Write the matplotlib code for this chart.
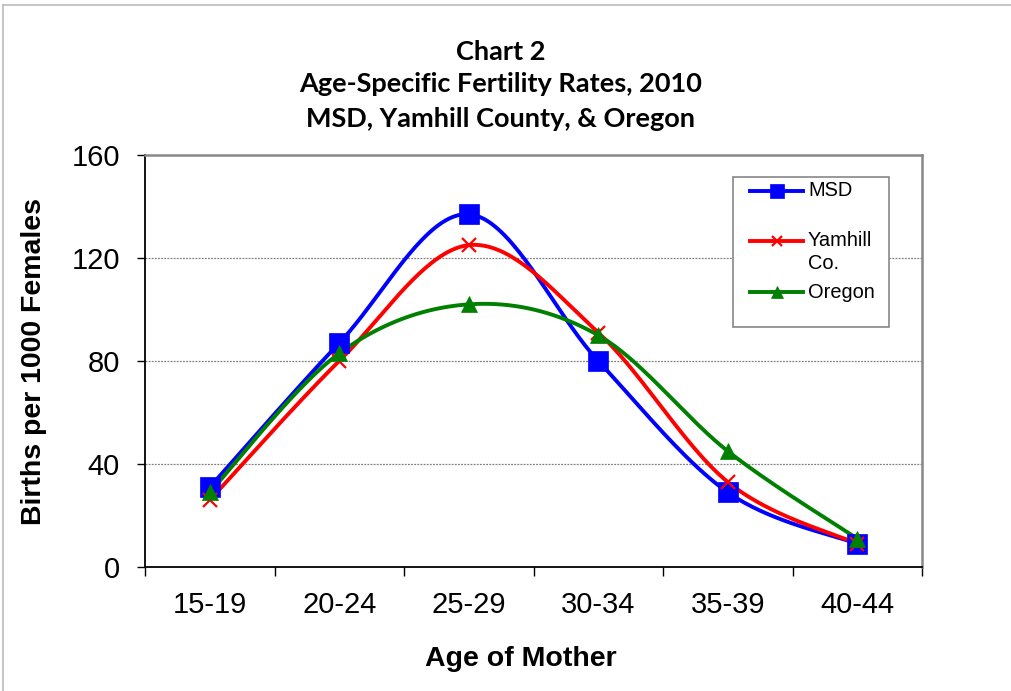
import numpy as np
import matplotlib
matplotlib.use("Agg")
import matplotlib.pyplot as plt
from matplotlib.lines import Line2D
from matplotlib.patches import Rectangle

categories = ["15-19", "20-24", "25-29", "30-34", "35-39", "40-44"]
msd = [31, 87, 137, 80, 29, 9]
yamhill = [26, 80, 125, 91, 33, 9]
oregon = [29, 83, 102, 90, 45, 11]
yticks = [0, 40, 80, 120, 160]

W, H = 1011, 691
fig = plt.figure(figsize=(W / 100, H / 100), dpi=100)

def fx(px):
    return px / W

def fy(py):
    return 1 - py / H

ax = fig.add_axes([fx(145), fy(567), fx(922) - fx(145), fy(155) - fy(567)])

def catmull(xs, ys, n=40):
    xs = np.asarray(xs, float)
    ys = np.asarray(ys, float)
    px = np.concatenate([[xs[0]], xs, [xs[-1]]])
    py = np.concatenate([[ys[0]], ys, [ys[-1]]])
    outx, outy = [], []
    t = np.linspace(0, 1, n)
    for i in range(1, len(px) - 2):
        p0x, p1x, p2x, p3x = px[i - 1:i + 3]
        p0y, p1y, p2y, p3y = py[i - 1:i + 3]
        c1x = p1x + (p2x - p0x) / 6
        c1y = p1y + (p2y - p0y) / 6
        c2x = p2x - (p3x - p1x) / 6
        c2y = p2y - (p3y - p1y) / 6
        bx = (1 - t) ** 3 * p1x + 3 * (1 - t) ** 2 * t * c1x + 3 * (1 - t) * t ** 2 * c2x + t ** 3 * p2x
        by = (1 - t) ** 3 * p1y + 3 * (1 - t) ** 2 * t * c1y + 3 * (1 - t) * t ** 2 * c2y + t ** 3 * p2y
        outx.append(bx)
        outy.append(by)
    return np.concatenate(outx), np.concatenate(outy)

x = np.arange(len(categories))
# (values, colour, marker, plot marker size, legend marker size, label)
series = [
    (msd, "#0000FF", "s", 14.5, 9.5, "MSD"),
    (yamhill, "#FF0000", "x", 9.5, 7, "Yamhill\nCo."),
    (oregon, "#008000", "^", 11, 8.5, "Oregon"),
]
for vals, col, mk, ms, lms, lab in series:
    sx, sy = catmull(x, vals)
    ax.plot(sx, sy, color=col, lw=2.8, zorder=3, solid_capstyle="round")
for vals, col, mk, ms, lms, lab in series:
    ax.plot(x, vals, linestyle="none", marker=mk, color=col, markersize=ms,
            markeredgewidth=1.6 if mk == "x" else 0.5, zorder=4)

TF = "Liberation Sans"
ax.set_xlim(-0.5, len(categories) - 0.5)
ax.set_ylim(0, 160)
ax.set_yticks(yticks)
ax.set_yticklabels([str(v) for v in yticks], fontsize=21, family=TF)
ax.set_xticks(x)
ax.set_xticklabels(categories, fontsize=21, family=TF)
ax.set_xticks(np.arange(len(categories) + 1) - 0.5, minor=True)
ax.tick_params(axis="x", which="major", length=0, pad=17)
ax.tick_params(axis="x", which="minor", length=6.5, width=1, direction="out", color="black")
ax.tick_params(axis="y", length=6, width=1, direction="out", pad=12, color="black")
for v in yticks[1:-1]:
    ax.axhline(v, color="#808080", lw=0.9, ls=(0, (1.5, 1)), zorder=1)
for s in ["top", "right"]:
    ax.spines[s].set_color("#888888")
    ax.spines[s].set_linewidth(1.8)
for s in ["left", "bottom"]:
    ax.spines[s].set_color("black")
    ax.spines[s].set_linewidth(1.3)

fig.text(fx(34), fy(361.5), "Births per 1000 Females", rotation=90, ha="center",
         va="center", fontsize=20.5, fontweight="bold", family=TF)
fig.text(fx(521), fy(666), "Age of Mother", ha="center", va="baseline",
         fontsize=20.5, fontweight="bold", family=TF)

title_lines = ["Chart 2", "Age-Specific Fertility Rates, 2010", "MSD, Yamhill County, & Oregon"]
for line, by in zip(title_lines, [59.5, 92.5, 127]):
    fig.text(fx(500.5), fy(by), line, ha="center", va="baseline", fontsize=19.5,
             fontweight="bold", family="Lato")

# legend box
fig.add_artist(Rectangle((fx(733), fy(327)), fx(889) - fx(733), fy(177) - fy(327),
                         transform=fig.transFigure, facecolor="white",
                         edgecolor="#888888", lw=1.2, zorder=5))
leg_y = [191, 241, 292]
for (vals, col, mk, ms, lms, lab), ly in zip(series, leg_y):
    fig.add_artist(Line2D([fx(750), fx(803)], [fy(ly), fy(ly)], color=col, lw=2.8,
                          transform=fig.transFigure, zorder=6))
    fig.add_artist(Line2D([fx(776.5)], [fy(ly)], color=col, marker=mk,
                          markersize=lms, markeredgewidth=1.6 if mk == "x" else 0.5,
                          transform=fig.transFigure, zorder=7))
    for k, part in enumerate(lab.split("\n")):
        fig.text(fx(808), fy(ly + 23 * k), part, ha="left", va="center", fontsize=14.4,
                 family=TF, zorder=7)

# outer chart border
fig.add_artist(Line2D([fx(3), fx(3)], [fy(5), 0], color="#BBBBBB", lw=1.2,
                      transform=fig.transFigure))
fig.add_artist(Line2D([fx(3), 1], [fy(5), fy(5)], color="#BBBBBB", lw=1.2,
                      transform=fig.transFigure))

fig.savefig("out.png", dpi=100)
